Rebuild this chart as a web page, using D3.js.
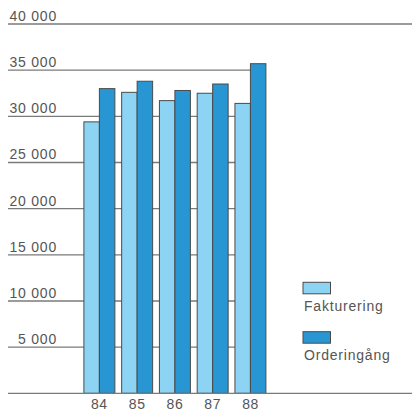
<!DOCTYPE html>
<html>
<head>
<meta charset="utf-8">
<script src="https://cdn.jsdelivr.net/npm/d3@7"></script>
<style>
  html, body { margin: 0; padding: 0; background: #ffffff; }
  svg { display: block; }
  text { font-family: "Liberation Sans", Arial, sans-serif; fill: #555; }
</style>
</head>
<body>
<svg id="chart" width="412" height="412"></svg>
<script>
// Years and series values
const years = ["84", "85", "86", "87", "88"];
const fakturering = [29400, 32600, 31700, 32500, 31400];
const orderingang = [33000, 33800, 32800, 33500, 35700];
const seriesNames = ["Fakturering", "Orderingång"];
const seriesColors = ["#8dd4f4", "#2796d3"];
const yTicks = [5000, 10000, 15000, 20000, 25000, 30000, 35000, 40000];

const svg = d3.select("#chart");

const y = d3.scaleLinear().domain([0, 40000]).range([393.3, 24]);
const x0 = d3.scaleBand().domain(years).range([80.5, 269.3])
  .paddingInner(0.18).paddingOuter(0.09);
const x1 = d3.scaleBand().domain(seriesNames).range([0, x0.bandwidth()]);

const fmt = v => d3.format(",")(v).replace(/,/g, " ");

// Horizontal rules with their value labels sitting above them
const grid = svg.append("g");
yTicks.forEach(t => {
  const xEnd = t === 40000 ? 412 : x0("88") + x0.bandwidth() / 2;
  grid.append("line")
    .attr("x1", 8).attr("x2", xEnd)
    .attr("y1", y(t)).attr("y2", y(t))
    .attr("stroke", "#7a7a7a").attr("stroke-width", 1.3);
  grid.append("text")
    .attr("x", 57).attr("y", y(t) - 3)
    .attr("text-anchor", "end")
    .attr("font-size", 14)
    .attr("letter-spacing", 0.8)
    .text(fmt(t));
});

// Grouped bars
const rows = years.map((yr, i) => ({ year: yr, values: [fakturering[i], orderingang[i]] }));
const groups = svg.append("g").selectAll("g").data(rows).join("g")
  .attr("transform", d => `translate(${x0(d.year)},0)`);
groups.selectAll("rect")
  .data(d => d.values.map((v, j) => ({ name: seriesNames[j], value: v, color: seriesColors[j] })))
  .join("rect")
  .attr("x", d => x1(d.name))
  .attr("width", x1.bandwidth())
  .attr("y", d => y(d.value))
  .attr("height", d => y(0) - y(d.value))
  .attr("fill", d => d.color)
  .attr("stroke", "#4a4a4a")
  .attr("stroke-width", 1);

// Baseline
svg.append("line")
  .attr("x1", 8).attr("x2", 412)
  .attr("y1", y(0)).attr("y2", y(0))
  .attr("stroke", "#7a7a7a").attr("stroke-width", 1.3);

// Year labels
svg.append("g").selectAll("text").data(years).join("text")
  .attr("x", d => x0(d) + x0.bandwidth() / 2)
  .attr("y", 408.5)
  .attr("text-anchor", "middle")
  .attr("font-size", 14)
  .attr("letter-spacing", 0.5)
  .text(d => d);

// Legend
const legend = svg.append("g");
seriesNames.forEach((name, i) => {
  const top = 282.3 + i * 49.4;
  legend.append("rect")
    .attr("x", 303).attr("y", top)
    .attr("width", 27.5).attr("height", 11.5)
    .attr("fill", seriesColors[i])
    .attr("stroke", "#4a4a4a").attr("stroke-width", 1);
  legend.append("text")
    .attr("x", 304).attr("y", top + 28.5)
    .attr("font-size", 14)
    .attr("letter-spacing", 0.8)
    .text(name);
});
</script>
</body>
</html>
